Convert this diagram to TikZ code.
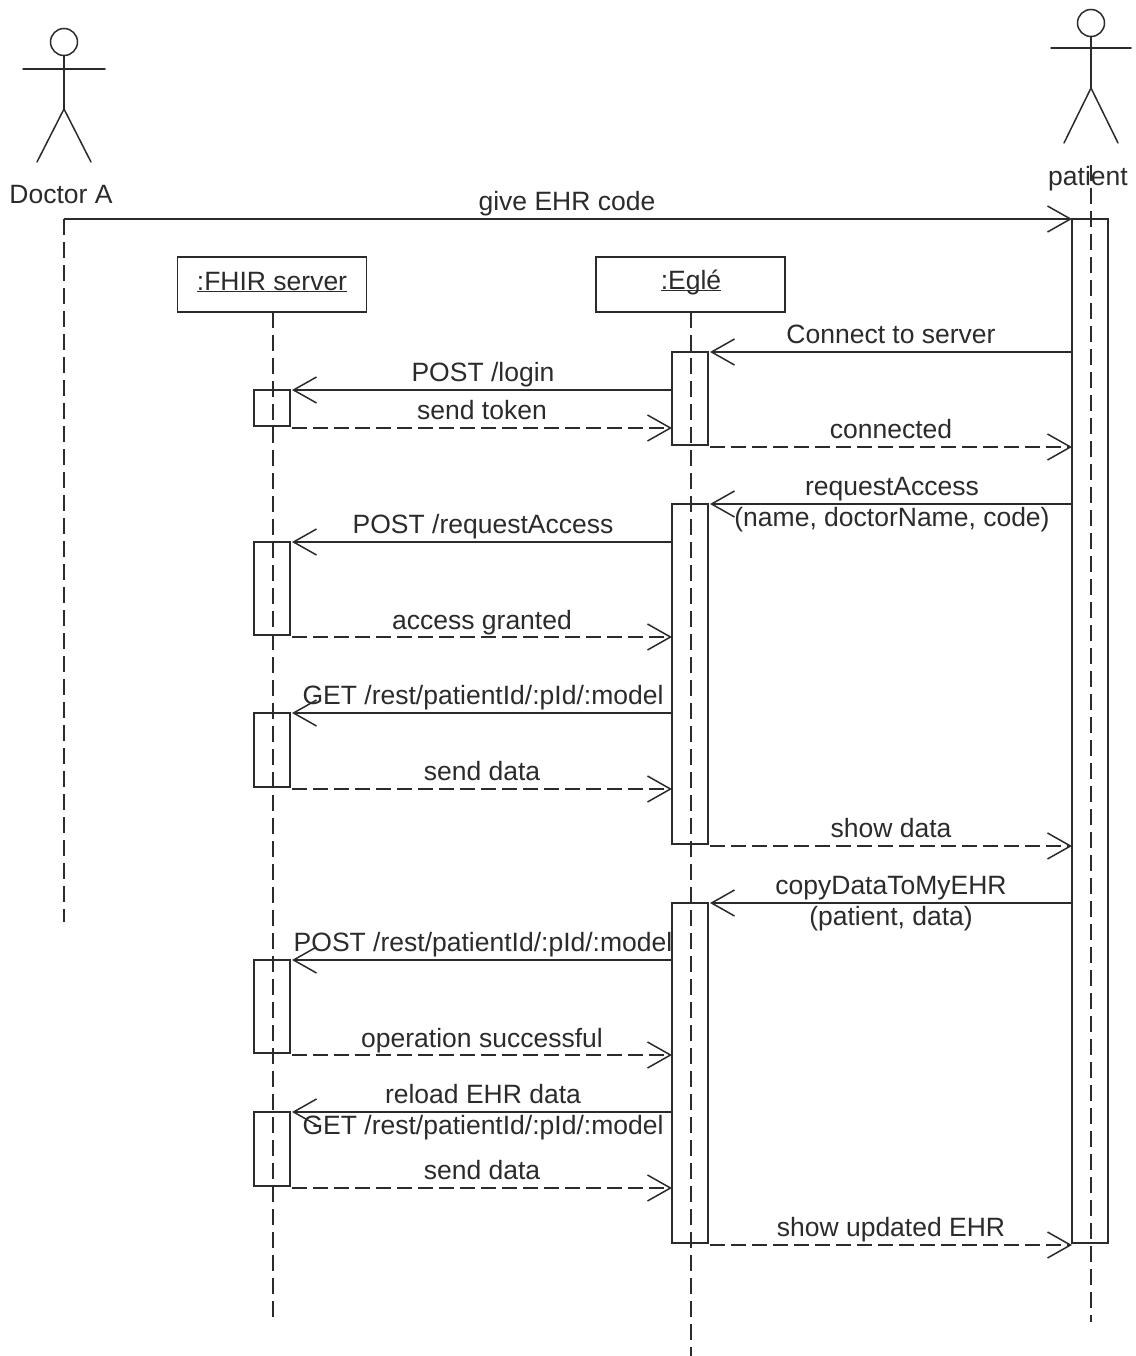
\documentclass[tikz,border=0pt]{standalone}
\usepackage{fontspec}
\setmainfont{Liberation Sans}
\usetikzlibrary{arrows.meta}
\definecolor{ink}{HTML}{2B2B2B}
\tikzset{
  every node/.style={text=ink,inner sep=0pt,outer sep=0pt},
  wire/.style={draw=ink,line width=1.5pt},
  lifeline/.style={wire,dash pattern=on 16pt off 7pt},
  objbox/.style={wire,minimum width=189pt,minimum height=55pt,anchor=center},
  actbox/.style={wire,minimum width=36pt,anchor=north},
  head/.style={wire,circle,minimum size=27pt},
  limb/.style={wire,line cap=round},
  txt/.style={anchor=base,font=\fontsize{26.5}{31}\selectfont},
  call/.style={wire,-{Straight Barb[length=23pt,width=26pt,line width=1.5pt]}},
  reply/.style={call,dash pattern=on 15pt off 6pt},
}
\begin{document}
\begin{tikzpicture}[x=1pt,y=-1pt]
\useasboundingbox (0,0) rectangle (1135,1356);
% actors
\node[head] (dh) at (64,42) {};
\coordinate (dn) at (64,109);
\coordinate (dal) at (23,69); \coordinate (dar) at (105,69);
\coordinate (dfl) at (37,162); \coordinate (dfr) at (91,162);
\draw[limb] (dh.south) -- (dn);
\draw[limb] (dal) -- (dar);
\draw[limb] (dfl) -- (dn) -- (dfr);
\node[txt] (dlabel) at (61,204) {Doctor A};
\node[head] (ph) at (1091,23) {};
\coordinate (pn) at (1091,88);
\coordinate (pal) at (1051,48); \coordinate (par) at (1131,48);
\coordinate (pfl) at (1064,143); \coordinate (pfr) at (1118,143);
\draw[limb] (ph.south) -- (pn);
\draw[limb] (pal) -- (par);
\draw[limb] (pfl) -- (pn) -- (pfr);
\node[txt] (plabel) at (1088,186) {patient};
% objects
\node[objbox] (fhir) at (272,284.5) {};
\node[txt] (fhirt) at (272,290) {\underline{\smash{:FHIR server}}};
\node[objbox] (egle) at (690.5,284.5) {};
\node[txt] (eglet) at (691,289) {\underline{\smash{:Eglé}}};
% lifeline ends
\coordinate (dtop) at (64,219); \coordinate (dend) at (64,922);
\coordinate (ptop) at (1091,165); \coordinate (pend) at (1091,1322);
\coordinate (fend) at (273,1318); \coordinate (eend) at (691,1356);
\coordinate (ftop) at (273,312); \coordinate (etop) at (691,312);
\draw[lifeline] (dtop) -- (dend);
\draw[lifeline] (ptop) -- (pend);
\draw[lifeline] (ftop) -- (fend);
\draw[lifeline] (etop) -- (eend);
% activations
\node[actbox,minimum height=1024pt] (pa) at (1090,219) {};
\node[actbox,minimum height=93pt] (ea1) at (690,352) {};
\node[actbox,minimum height=340pt] (ea2) at (690,504) {};
\node[actbox,minimum height=340pt] (ea3) at (690,903) {};
\node[actbox,minimum height=36pt] (fa1) at (272,390) {};
\node[actbox,minimum height=93pt] (fa2) at (272,542) {};
\node[actbox,minimum height=74pt] (fa3) at (272,713) {};
\node[actbox,minimum height=93pt] (fa4) at (272,960) {};
\node[actbox,minimum height=74pt] (fa5) at (272,1112) {};
% messages
\draw[call] (dtop) -- (pa.north west);
\node[txt] (m0) at (567,211) {give EHR code};

\draw[call] (pa.west |- ea1.north) -- ([xshift=2pt]ea1.north east);
\node[txt] (m1) at (891,343) {Connect to server};

\draw[call] (ea1.west |- fa1.north) -- ([xshift=2pt]fa1.north east);
\node[txt] (m2) at (483,381) {POST /login};

\draw[reply] ([xshift=2pt,yshift=-2pt]fa1.south east) -- ([yshift=-2pt]ea1.west |- fa1.south);
\node[txt] (m3) at (482,419) {send token};

\draw[reply] ([xshift=2pt,yshift=-2pt]ea1.south east) -- ([yshift=-2pt]pa.west |- ea1.south);
\node[txt] (m4) at (891,438) {connected};

\draw[call] (pa.west |- ea2.north) -- ([xshift=2pt]ea2.north east);
\node[txt] (m5) at (892,495) {requestAccess};
\node[txt] (m5b) at (892,526) {(name, doctorName, code)};

\draw[call] (ea2.west |- fa2.north) -- ([xshift=2pt]fa2.north east);
\node[txt] (m6) at (483,533) {POST /requestAccess};

\draw[reply] ([xshift=2pt,yshift=-2pt]fa2.south east) -- ([yshift=-2pt]ea2.west |- fa2.south);
\node[txt] (m7) at (482,629) {access granted};

\draw[call] (ea2.west |- fa3.north) -- ([xshift=2pt]fa3.north east);
\node[txt] (m8) at (483,704) {GET /rest/patientId/:pId/:model};

\draw[reply] ([xshift=2pt,yshift=-2pt]fa3.south east) -- ([yshift=-2pt]ea2.west |- fa3.south);
\node[txt] (m9) at (482,780) {send data};

\draw[reply] ([xshift=2pt,yshift=-2pt]ea2.south east) -- ([yshift=-2pt]pa.west |- ea2.south);
\node[txt] (m10) at (891,837) {show data};

\draw[call] (pa.west |- ea3.north) -- ([xshift=2pt]ea3.north east);
\node[txt] (m11) at (891,894) {copyDataToMyEHR};
\node[txt] (m11b) at (891,925) {(patient, data)};

\draw[call] (ea3.west |- fa4.north) -- ([xshift=2pt]fa4.north east);
\node[txt] (m12) at (483,951) {POST /rest/patientId/:pId/:model};

\draw[reply] ([xshift=2pt,yshift=-2pt]fa4.south east) -- ([yshift=-2pt]ea3.west |- fa4.south);
\node[txt] (m13) at (482,1047) {operation successful};

\draw[call] (ea3.west |- fa5.north) -- ([xshift=2pt]fa5.north east);
\node[txt] (m14) at (483,1103) {reload EHR data};
\node[txt] (m14b) at (483,1134) {GET /rest/patientId/:pId/:model};

\draw[reply] ([xshift=2pt,yshift=-2pt]fa5.south east) -- ([yshift=-2pt]ea3.west |- fa5.south);
\node[txt] (m15) at (482,1179) {send data};

\draw[reply] ([xshift=2pt,yshift=-2pt]ea3.south east) -- ([yshift=-2pt]pa.west |- ea3.south);
\node[txt] (m16) at (891,1236) {show updated EHR};
\end{tikzpicture}
\end{document}
